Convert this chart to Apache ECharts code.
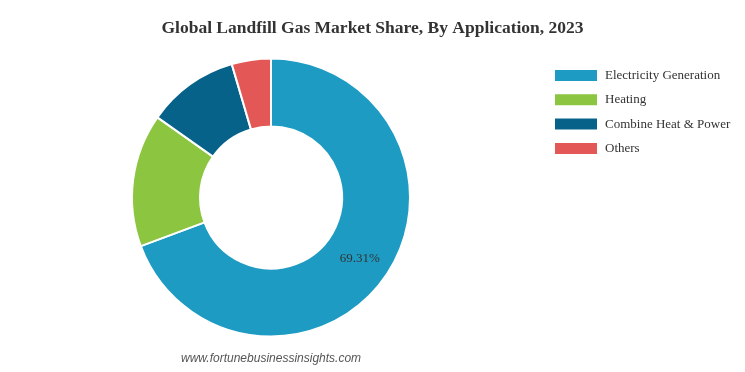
<!DOCTYPE html>
<html>
<head>
<meta charset="utf-8">
<script src="https://cdn.jsdelivr.net/npm/echarts@6/dist/echarts.min.js"></script>
<style>
html,body{margin:0;padding:0;background:#fff;}
#chart{width:745px;height:372px;}
</style>
</head>
<body>
<div id="chart"></div>
<script>
var categories = ['Electricity Generation', 'Heating', 'Combine Heat & Power', 'Others'];
var shares = [69.31, 15.47, 10.67, 4.55];
var colors = ['#1e9bc2', '#8cc540', '#07628a', '#e45757'];

var chart = echarts.init(document.getElementById('chart'), null, {renderer: 'canvas'});
var data = categories.map(function (c, i) {
  return {
    name: c,
    value: shares[i],
    itemStyle: {color: colors[i]},
    label: {show: i === 0}
  };
});

chart.setOption({
  backgroundColor: '#fff',
  animation: false,
  title: {
    text: 'Global Landfill Gas Market Share, By Application, 2023',
    left: 'center',
    top: 14,
    textStyle: {
      fontFamily: 'Liberation Serif',
      fontWeight: 'bold',
      fontSize: 17.5,
      color: '#333'
    }
  },
  legend: {
    orient: 'vertical',
    left: 548,
    top: 63,
    itemWidth: 44,
    itemHeight: 13,
    itemGap: 9.3,
    icon: 'rect',
    textStyle: {
      fontFamily: 'Liberation Serif',
      fontSize: 13,
      color: '#333',
      padding: [0, 0, 0, 2]
    },
    data: categories
  },
  graphic: [{
    type: 'text',
    left: 181,
    top: 353,
    style: {
      text: 'www.fortunebusinessinsights.com',
      font: 'italic 12px "Liberation Sans"',
      fill: '#555'
    }
  }],
  series: [{
    type: 'pie',
    center: [271, 197.5],
    radius: [71, 139],
    startAngle: 90,
    clockwise: true,
    avoidLabelOverlap: false,
    itemStyle: {borderColor: '#fff', borderWidth: 2},
    label: {
      position: 'inside',
      formatter: function (p) { return p.value.toFixed(2) + '%'; },
      fontFamily: 'Liberation Serif',
      fontSize: 13,
      color: '#333'
    },
    labelLine: {show: false},
    emphasis: {disabled: true},
    data: data
  }]
});
</script>
</body>
</html>
